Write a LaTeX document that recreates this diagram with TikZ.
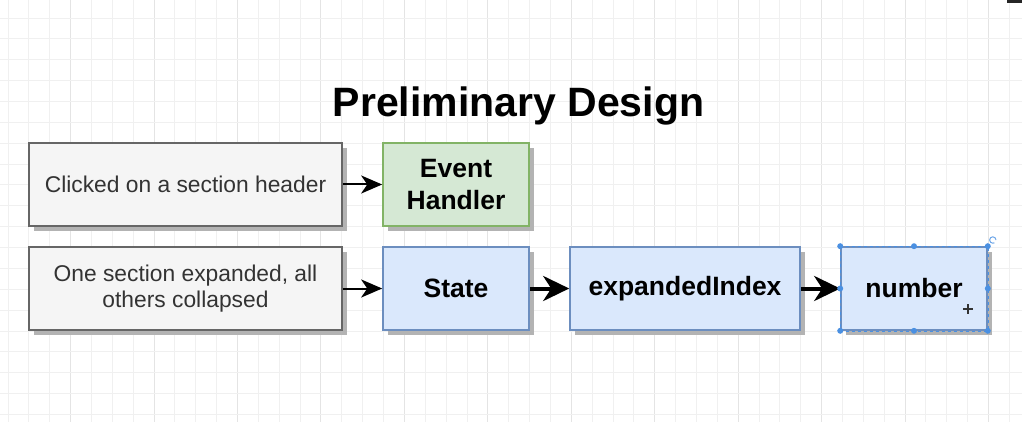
\documentclass[tikz,border=0pt]{standalone}
\usepackage{fontspec}
\setmainfont{Liberation Sans}
\usetikzlibrary{arrows.meta,shadows}
\definecolor{gfill}{HTML}{F5F5F5}
\definecolor{gdraw}{HTML}{666666}
\definecolor{efill}{HTML}{D5E8D4}
\definecolor{edraw}{HTML}{82B366}
\definecolor{bfill}{HTML}{DAE8FC}
\definecolor{bdraw}{HTML}{6C8EBF}
\definecolor{gridminor}{HTML}{F0F0F0}
\definecolor{gridmajor}{HTML}{E4E4E4}
\definecolor{selc}{HTML}{4A90E2}
\definecolor{gtext}{HTML}{333333}
\definecolor{shadowc}{HTML}{B3B3B3}
\begin{document}
\begin{tikzpicture}[x=1pt,y=-1pt,
  box/.style={rectangle, minimum height=83pt, inner sep=0pt, line width=1.6pt, align=center,
    drop shadow={shadow xshift=5pt, shadow yshift=-5pt, fill=shadowc, opacity=1, fill opacity=1}},
  graybox/.style={box, fill=gfill, draw=gdraw, minimum width=313pt, text=gtext,
    font=\fontsize{22.8}{26}\selectfont},
  greenbox/.style={box, fill=efill, draw=edraw, minimum width=146pt,
    font=\fontsize{26.5}{32}\selectfont\bfseries},
  bluebox/.style={box, fill=bfill, draw=bdraw,
    font=\fontsize{26.5}{32}\selectfont\bfseries},
  thinarrow/.style={line width=2pt, -{Stealth[length=21pt,width=18pt,inset=6pt]}},
  thickarrow/.style={line width=4pt, -{Stealth[length=26pt,width=25pt,inset=8pt]}},
  handle/.style={circle, fill=selc, inner sep=0pt, minimum size=6pt},
]
\useasboundingbox (0,0) rectangle (1022,422);
\fill[white] (0,0) rectangle (1022,422);
% grid
\foreach \i in {0,...,48}{
  \pgfmathtruncatemacro{\m}{mod(\i,4)}
  \ifnum\m=3
    \draw[gridmajor, line width=0.9pt] ({8+20.86*\i},0) -- ({8+20.86*\i},422);
  \else
    \draw[gridminor, line width=0.8pt] ({8+20.86*\i},0) -- ({8+20.86*\i},422);
  \fi
}
\foreach \j in {0,...,19}{
  \draw[gridminor, line width=0.8pt] (0,{18+20.86*\j}) -- (1022,{18+20.86*\j});
}
\fill[black!85] (1007,0) rectangle (1022,3);

% title
\node[anchor=base, font=\fontsize{41}{49}\selectfont\bfseries, inner sep=0pt] (title) at (518.5,117) {Preliminary Design};

% boxes
\node[graybox] (click) at (185.5,184.5) {Clicked on a section header};
\node[greenbox] (event) at (456,184.5) {Event\\Handler};
\node[graybox] (expanded) at (185.5,288.5) {One section expanded, all\\others collapsed};
\node[bluebox, minimum width=146pt] (state) at (456,288.5) {State};
\node[bluebox, minimum width=230pt] (index) at (685,288.5) {expandedIndex};
\node[bluebox, minimum width=146pt] (num) at (914,288.5) {number};

% arrows
\draw[thinarrow] (click) -- (event);
\draw[thinarrow] (expanded) -- (state);
\draw[thickarrow] (state) -- (index);
\draw[thickarrow] (index) -- (num);

% selection handles
\draw[selc, line width=0.6pt, dashed] (num.north west) rectangle (num.south east);
\foreach \a in {north west,north,north east,west,east,south west,south,south east}{
  \node[handle] at (num.\a) {};
}
\draw[selc!80, line width=1pt] (996,240) arc[start angle=0, end angle=300, radius=3.2pt];
\draw[black!80, line width=1.2pt] (963,309) -- (973,309);
\draw[black!80, line width=1.2pt] (968,304) -- (968,314);
\end{tikzpicture}
\end{document}
